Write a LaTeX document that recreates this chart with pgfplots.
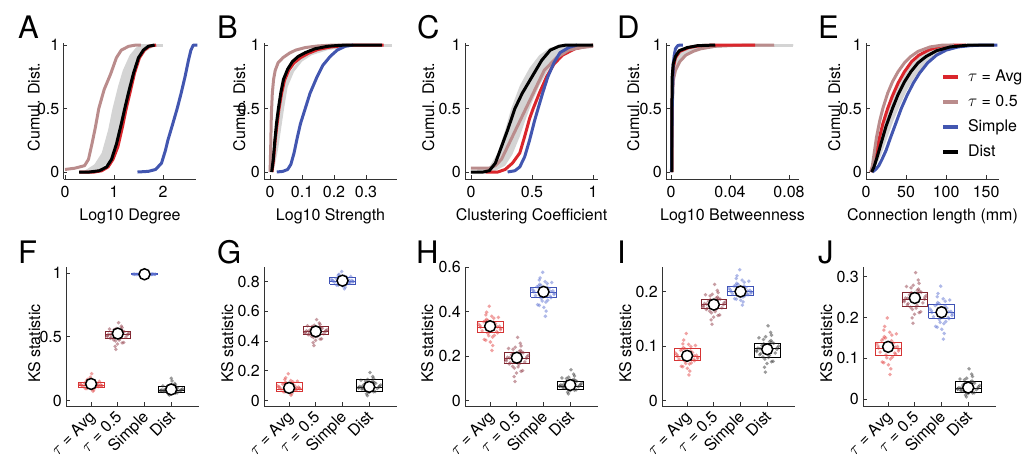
\documentclass[border=0pt]{standalone}
\usepackage{fontspec}
\setmainfont{TeX Gyre Heros}
\usepackage{pgfplots}
\usepackage{pgfplotstable}
\pgfplotsset{compat=1.18}

\definecolor{cRed}{RGB}{218,38,44}
\definecolor{cRosy}{RGB}{186,140,140}
\definecolor{cBlue}{RGB}{66,86,176}
\definecolor{cGray}{RGB}{212,212,212}
\definecolor{dRed}{RGB}{226,70,70}
\definecolor{dMar}{RGB}{145,60,72}
\definecolor{dBlue}{RGB}{95,115,210}
\definecolor{dBlack}{RGB}{55,55,55}
\definecolor{bRed}{RGB}{214,52,52}
\definecolor{bMar}{RGB}{128,38,48}
\definecolor{bBlue}{RGB}{62,82,182}

\newcommand{\fsz}{\fontsize{16bp}{19bp}\selectfont}
\newcommand{\lsz}{\fontsize{31bp}{31bp}\selectfont}

\pgfplotsset{
  panel/.style={scale only axis, width=133bp, anchor=south west,
    axis x line*=bottom, axis y line*=left,
    tick align=inside, major tick length=3.5bp,
    axis line style={line width=0.8bp, black!80},
    tick style={line width=0.8bp, black!80},
    tick label style={font=\fsz, inner sep=0pt},
    /pgf/number format/assume math mode=true,
    /pgf/number format/fixed,
    scaled ticks=false, clip=false,
    yticklabel style={anchor=east, xshift=-4bp}},
  cdf/.style={panel, height=136bp, ymin=-0.055, ymax=1.016, ytick={0,0.5,1},
    xticklabel style={anchor=base, yshift=-19bp},
    every axis x label/.style={at={(axis description cs:0.5,0)}, anchor=base, yshift=-42bp, font=\fsz, inner sep=0pt},
    every axis y label/.style={at={([xshift=-#1]axis description cs:0,0.53)}, rotate=90, anchor=base, font=\fsz, inner sep=0pt},
    ylabel={Cumul. Dist.}},
  ks/.style={panel, height=139bp, xmin=0.06, xmax=5.04, xtick={1,2,3,4},
    xticklabels={{$\tau$ = Avg},{$\tau$ = 0.5},Simple,Dist},
    xticklabel style={xshift=5bp, yshift=-12bp, rotate=45, anchor=base east},
    every axis y label/.style={at={([xshift=-#1]axis description cs:0,0.45)}, rotate=90, anchor=base, font=\fsz, inner sep=0pt},
    ylabel={KS statistic}},
  band/.style={draw=none, fill=cGray, forget plot},
  gline/.style={cGray, line width=3bp, forget plot},
  cur/.style={line width=3bp, line join=round, #1},
  cl/.style={only marks, mark=*, color=#1, mark size=1.9bp, mark options={draw opacity=0, fill=#1, fill opacity=0.5}},
  bx/.style={#1, line width=0.8bp},
  mn/.style={only marks, mark=*, color=black, mark size=5.5bp, mark options={fill=white, draw=black, line width=1.5bp}},
}

\pgfplotstableread{
x1 y1 x2 y2 x3 y3 x4 y4
0.64 0.120 2.36 0.515 2.64 0.990 4.36 0.080
1.13 0.135 1.87 0.538 3.13 0.991 3.87 0.098
0.92 0.108 2.08 0.485 2.92 0.989 4.08 0.070
1.31 0.150 1.69 0.560 3.31 0.992 3.69 0.115
0.78 0.095 2.22 0.455 2.78 0.988 4.22 0.060
1.04 0.126 1.96 0.524 3.04 0.990 3.96 0.087
1.39 0.115 1.61 0.503 3.39 0.990 3.61 0.076
0.87 0.165 2.13 0.583 2.87 0.993 4.13 0.133
1.10 0.083 1.90 0.425 3.10 0.987 3.90 0.050
0.86 0.144 2.14 0.551 2.86 0.992 4.14 0.108
1.09 0.100 1.91 0.467 3.09 0.988 3.91 0.064
0.57 0.129 2.43 0.529 2.57 0.991 4.43 0.091
1.25 0.111 1.75 0.494 3.25 0.989 3.75 0.073
0.97 0.183 2.03 0.610 2.97 0.994 4.03 0.154
1.07 0.073 1.93 0.401 3.07 0.986 3.93 0.042
0.82 0.140 2.18 0.544 2.82 0.991 4.18 0.103
1.16 0.104 1.84 0.476 3.16 0.989 3.84 0.067
0.84 0.158 2.16 0.571 2.84 0.992 4.16 0.124
1.01 0.090 1.99 0.443 3.01 0.988 3.99 0.056
1.27 0.122 1.73 0.517 3.27 0.990 3.73 0.082
1.20 0.131 1.80 0.531 3.20 0.991 3.80 0.092
0.70 0.113 2.30 0.497 2.70 0.989 4.30 0.074
1.35 0.123 1.65 0.520 3.35 0.990 3.65 0.084
0.95 0.103 2.05 0.473 2.95 0.989 4.05 0.066
1.14 0.147 1.86 0.556 3.14 0.992 3.86 0.112
0.76 0.137 2.24 0.540 2.76 0.991 4.24 0.099
1.28 0.109 1.72 0.488 3.28 0.989 3.72 0.071
0.62 0.125 2.38 0.522 2.62 0.990 4.38 0.085
1.06 0.153 1.94 0.565 3.06 0.992 3.94 0.119
0.84 0.094 2.16 0.452 2.84 0.988 4.16 0.059
1.40 0.118 1.60 0.509 3.40 0.990 3.60 0.078
0.91 0.141 2.09 0.547 2.91 0.991 4.09 0.105
}\tabF

\pgfplotstableread{
x1 y1 x2 y2 x3 y3 x4 y4
0.64 0.085 2.36 0.465 2.64 0.805 4.36 0.090
1.13 0.108 1.87 0.484 3.13 0.820 3.87 0.114
0.92 0.072 2.08 0.440 2.92 0.791 4.08 0.075
1.31 0.130 1.69 0.503 3.31 0.835 3.69 0.137
0.78 0.059 2.22 0.415 2.78 0.777 4.22 0.060
1.04 0.094 1.96 0.473 3.04 0.811 3.96 0.099
1.39 0.080 1.61 0.455 3.39 0.799 3.61 0.084
0.87 0.153 2.13 0.522 2.87 0.850 4.13 0.161
1.10 0.046 1.90 0.390 3.10 0.763 3.90 0.045
0.86 0.121 2.14 0.495 2.86 0.829 4.14 0.128
1.09 0.064 1.91 0.425 3.09 0.783 3.91 0.066
0.57 0.099 2.43 0.476 2.57 0.814 4.43 0.104
1.25 0.076 1.75 0.448 3.25 0.795 3.75 0.080
0.97 0.180 2.03 0.545 2.97 0.868 4.03 0.189
1.07 0.036 1.93 0.370 3.07 0.752 3.93 0.033
0.82 0.114 2.18 0.490 2.82 0.825 4.18 0.121
1.16 0.068 1.84 0.433 3.16 0.787 3.84 0.071
0.84 0.141 2.16 0.513 2.84 0.843 4.16 0.149
1.01 0.054 1.99 0.405 3.01 0.771 3.99 0.054
1.27 0.087 1.73 0.467 3.27 0.807 3.73 0.092
1.20 0.101 1.80 0.478 3.20 0.816 3.80 0.106
0.70 0.077 2.30 0.450 2.70 0.797 4.30 0.081
1.35 0.090 1.65 0.469 3.35 0.808 3.65 0.095
0.95 0.067 2.05 0.430 2.95 0.785 4.05 0.069
1.14 0.126 1.86 0.499 3.14 0.832 3.86 0.132
0.76 0.110 2.24 0.486 2.76 0.822 4.24 0.116
1.28 0.073 1.72 0.443 3.28 0.792 3.72 0.077
0.62 0.092 2.38 0.471 2.62 0.810 4.38 0.097
1.06 0.135 1.94 0.507 3.06 0.838 3.94 0.142
0.84 0.058 2.16 0.413 2.84 0.776 4.16 0.059
1.40 0.082 1.60 0.460 3.40 0.802 3.60 0.087
0.91 0.117 2.09 0.492 2.91 0.826 4.09 0.123
}\tabG

\pgfplotstableread{
x1 y1 x2 y2 x3 y3 x4 y4
0.64 0.330 2.36 0.190 2.64 0.490 4.36 0.068
1.13 0.353 1.87 0.213 3.13 0.511 3.87 0.085
0.92 0.303 2.08 0.163 2.92 0.461 4.08 0.058
1.31 0.375 1.69 0.235 3.31 0.532 3.69 0.102
0.78 0.275 2.22 0.135 2.78 0.432 4.22 0.048
1.04 0.339 1.96 0.199 3.04 0.498 3.96 0.075
1.39 0.319 1.61 0.179 3.39 0.478 3.61 0.064
0.87 0.398 2.13 0.258 2.87 0.553 4.13 0.119
1.10 0.248 1.90 0.108 3.10 0.403 3.90 0.038
0.86 0.366 2.14 0.226 2.86 0.524 4.14 0.095
1.09 0.286 1.91 0.146 3.09 0.444 3.91 0.052
0.57 0.344 2.43 0.204 2.57 0.503 4.43 0.078
1.25 0.311 1.75 0.171 3.25 0.470 3.75 0.061
0.97 0.425 2.03 0.285 2.97 0.578 4.03 0.139
1.07 0.226 1.93 0.086 3.07 0.380 3.93 0.030
0.82 0.359 2.18 0.219 2.82 0.517 4.18 0.090
1.16 0.294 1.84 0.154 3.16 0.452 3.84 0.055
0.84 0.386 2.16 0.246 2.84 0.543 4.16 0.111
1.01 0.264 1.99 0.124 3.01 0.420 3.99 0.044
1.27 0.332 1.73 0.192 3.27 0.492 3.73 0.070
1.20 0.346 1.80 0.206 3.20 0.505 3.80 0.080
0.70 0.314 2.30 0.174 2.70 0.473 4.30 0.062
1.35 0.335 1.65 0.195 3.35 0.494 3.65 0.071
0.95 0.292 2.05 0.152 2.95 0.449 4.05 0.054
1.14 0.371 1.86 0.231 3.14 0.528 3.86 0.099
0.76 0.355 2.24 0.215 2.76 0.513 4.24 0.087
1.28 0.305 1.72 0.165 3.28 0.464 3.72 0.059
0.62 0.337 2.38 0.197 2.62 0.496 4.38 0.073
1.06 0.380 1.94 0.240 3.06 0.536 3.94 0.105
0.84 0.272 2.16 0.132 2.84 0.429 4.16 0.047
1.40 0.325 1.60 0.185 3.40 0.484 3.60 0.066
0.91 0.362 2.09 0.222 2.91 0.519 4.09 0.092
}\tabH

\pgfplotstableread{
x1 y1 x2 y2 x3 y3 x4 y4
0.64 0.081 2.36 0.176 2.64 0.200 4.36 0.094
1.13 0.091 1.87 0.185 3.13 0.210 3.87 0.104
0.92 0.072 2.08 0.167 2.92 0.194 4.08 0.083
1.31 0.101 1.69 0.194 3.31 0.219 3.69 0.115
0.78 0.063 2.22 0.157 2.78 0.187 4.22 0.072
1.04 0.085 1.96 0.180 3.04 0.204 3.96 0.098
1.39 0.077 1.61 0.172 3.39 0.197 3.61 0.090
0.87 0.111 2.13 0.202 2.87 0.229 4.13 0.125
1.10 0.054 1.90 0.148 3.10 0.181 3.90 0.061
0.86 0.097 2.14 0.190 2.86 0.215 4.14 0.110
1.09 0.067 1.91 0.161 3.09 0.190 3.91 0.076
0.57 0.087 2.43 0.181 2.57 0.206 4.43 0.100
1.25 0.075 1.75 0.169 3.25 0.195 3.75 0.086
0.97 0.123 2.03 0.213 2.97 0.240 4.03 0.137
1.07 0.047 1.93 0.140 3.07 0.175 3.93 0.052
0.82 0.094 2.18 0.187 2.82 0.212 4.18 0.107
1.16 0.069 1.84 0.164 3.16 0.192 3.84 0.080
0.84 0.104 2.16 0.198 2.84 0.224 4.16 0.120
1.01 0.059 1.99 0.153 3.01 0.184 3.99 0.068
1.27 0.082 1.73 0.177 3.27 0.201 3.73 0.095
1.20 0.088 1.80 0.182 3.20 0.207 3.80 0.101
0.70 0.076 2.30 0.170 2.70 0.196 4.30 0.087
1.35 0.083 1.65 0.178 3.35 0.202 3.65 0.096
0.95 0.068 2.05 0.163 2.95 0.191 4.05 0.079
1.14 0.099 1.86 0.192 3.14 0.217 3.86 0.112
0.76 0.092 2.24 0.186 2.76 0.210 4.24 0.105
1.28 0.073 1.72 0.167 3.28 0.194 3.72 0.084
0.62 0.084 2.38 0.179 2.62 0.203 4.38 0.097
1.06 0.103 1.94 0.195 3.06 0.221 3.94 0.117
0.84 0.062 2.16 0.156 2.84 0.186 4.16 0.071
1.40 0.079 1.60 0.174 3.40 0.199 3.60 0.092
0.91 0.095 2.09 0.188 2.91 0.213 4.09 0.108
}\tabI

\pgfplotstableread{
x1 y1 x2 y2 x3 y3 x4 y4
0.64 0.125 2.36 0.245 2.64 0.212 4.36 0.026
1.13 0.143 1.87 0.261 3.13 0.228 3.87 0.038
0.92 0.108 2.08 0.230 2.92 0.195 4.08 0.021
1.31 0.160 1.69 0.276 3.31 0.243 3.69 0.049
0.78 0.091 2.22 0.214 2.78 0.178 4.22 0.015
1.04 0.132 1.96 0.251 3.04 0.218 3.96 0.031
1.39 0.118 1.61 0.239 3.39 0.205 3.61 0.024
0.87 0.178 2.13 0.292 2.87 0.259 4.13 0.061
1.10 0.074 1.90 0.199 3.10 0.161 3.90 0.010
0.86 0.153 2.14 0.270 2.86 0.237 4.14 0.044
1.09 0.098 1.91 0.220 3.09 0.185 3.91 0.017
0.57 0.136 2.43 0.254 2.57 0.221 4.43 0.033
1.25 0.113 1.75 0.234 3.25 0.200 3.75 0.022
0.97 0.199 2.03 0.310 2.97 0.277 4.03 0.074
1.07 0.060 1.93 0.186 3.07 0.147 3.93 0.005
0.82 0.148 2.18 0.265 2.82 0.232 4.18 0.041
1.16 0.103 1.84 0.225 3.16 0.190 3.84 0.019
0.84 0.169 2.16 0.284 2.84 0.251 4.16 0.055
1.01 0.084 1.99 0.208 3.01 0.171 3.99 0.013
1.27 0.127 1.73 0.247 3.27 0.214 3.73 0.027
1.20 0.137 1.80 0.256 3.20 0.223 3.80 0.034
0.70 0.115 2.30 0.236 2.70 0.202 4.30 0.023
1.35 0.129 1.65 0.248 3.35 0.215 3.65 0.028
0.95 0.101 2.05 0.223 2.95 0.188 4.05 0.018
1.14 0.157 1.86 0.273 3.14 0.240 3.86 0.047
0.76 0.144 2.24 0.262 2.76 0.229 4.24 0.039
1.28 0.110 1.72 0.231 3.28 0.197 3.72 0.021
0.62 0.130 2.38 0.250 2.62 0.217 4.38 0.030
1.06 0.164 1.94 0.279 3.06 0.246 3.94 0.051
0.84 0.089 2.16 0.212 2.84 0.176 4.16 0.015
1.40 0.122 1.60 0.242 3.40 0.209 3.60 0.025
0.91 0.150 2.09 0.267 2.91 0.234 4.09 0.042
}\tabJ

\begin{document}
\begin{tikzpicture}
\path[use as bounding box] (0,0) rectangle (1036bp,457bp);

% ---------- top row: cumulative distributions ----------
% A
\begin{axis}[cdf=24bp, at={(63.5bp,278bp)}, xmin=-0.03, xmax=2.684, xtick={0,1,2}, xlabel={Log10 Degree}]
\addplot[band] coordinates {(0.4,0.01)(0.6,0.06)(0.75,0.15)(0.88,0.33)(0.97,0.5)(1.08,0.67)(1.18,0.8)(1.32,0.92)(1.45,0.98)(1.6,1.0)(2.0,1.0)(2.0,0.99)(1.8,0.985)(1.65,0.95)(1.5,0.87)(1.4,0.75)(1.3,0.6)(1.2,0.45)(1.1,0.3)(1.0,0.17)(0.9,0.08)(0.7,0.02)(0.4,0.0)};
\addplot[gline] coordinates {(1.5,1)(2.0,1)};
\addplot[cur=cRed] coordinates {(0.3,0)(0.6,0)(0.75,0.01)(0.88,0.04)(0.98,0.1)(1.08,0.2)(1.17,0.35)(1.25,0.5)(1.33,0.63)(1.42,0.78)(1.52,0.9)(1.62,0.96)(1.72,0.99)(1.86,1.0)};
\addplot[cur=cRosy] coordinates {(0,0.02)(0.2,0.03)(0.4,0.05)(0.48,0.1)(0.55,0.22)(0.62,0.35)(0.69,0.5)(0.8,0.65)(0.93,0.77)(1.05,0.9)(1.15,0.96)(1.3,0.99)(1.45,1.0)(1.55,1.0)};
\addplot[cur=cBlue] coordinates {(1.48,0)(1.7,0.005)(1.85,0.02)(1.97,0.07)(2.05,0.17)(2.1,0.25)(2.2,0.38)(2.29,0.5)(2.37,0.62)(2.45,0.75)(2.52,0.88)(2.57,0.96)(2.62,1.0)(2.7,1.0)};
\addplot[cur=black] coordinates {(0.29,0)(0.5,0)(0.7,0.01)(0.85,0.04)(0.95,0.1)(1.05,0.22)(1.15,0.38)(1.22,0.5)(1.3,0.63)(1.4,0.78)(1.5,0.9)(1.6,0.96)(1.7,0.99)(1.83,1.0)};
\end{axis}

% B
\begin{axis}[cdf=19bp, at={(264bp,278bp)}, xmin=-0.019, xmax=0.397, xtick={0,0.1,0.2,0.3}, xlabel={Log10 Strength}]
\addplot[band] coordinates {(0.005,0)(0.012,0.15)(0.02,0.35)(0.028,0.5)(0.04,0.65)(0.06,0.78)(0.09,0.88)(0.13,0.95)(0.18,0.985)(0.25,1.0)(0.38,1.0)(0.38,0.99)(0.25,0.985)(0.18,0.96)(0.13,0.92)(0.1,0.87)(0.075,0.79)(0.055,0.67)(0.045,0.52)(0.035,0.35)(0.025,0.18)(0.015,0.05)(0.008,0)};
\addplot[gline] coordinates {(0.2,1)(0.38,1)};
\addplot[cur=cRed] coordinates {(0.006,0)(0.011,0.1)(0.016,0.25)(0.022,0.38)(0.028,0.5)(0.036,0.62)(0.045,0.72)(0.058,0.8)(0.075,0.86)(0.095,0.9)(0.12,0.935)(0.15,0.965)(0.19,0.985)(0.24,0.997)(0.28,1.0)(0.355,1.0)};
\addplot[cur=cRosy] coordinates {(0,0)(0.002,0.2)(0.004,0.45)(0.007,0.62)(0.011,0.73)(0.016,0.8)(0.025,0.86)(0.04,0.9)(0.06,0.935)(0.08,0.96)(0.11,0.98)(0.15,0.993)(0.2,1.0)(0.25,1.0)};
\addplot[cur=cBlue] coordinates {(0.021,0)(0.04,0.005)(0.055,0.02)(0.065,0.06)(0.075,0.15)(0.085,0.27)(0.095,0.38)(0.11,0.5)(0.125,0.62)(0.147,0.75)(0.165,0.84)(0.188,0.91)(0.21,0.96)(0.235,0.99)(0.26,1.0)};
\addplot[cur=black] coordinates {(0.005,0)(0.01,0.1)(0.015,0.25)(0.02,0.38)(0.026,0.5)(0.034,0.63)(0.042,0.73)(0.055,0.81)(0.07,0.87)(0.088,0.91)(0.11,0.94)(0.14,0.97)(0.18,0.99)(0.22,0.998)(0.26,1.0)(0.35,1.0)};
\end{axis}

% C
\begin{axis}[cdf=31bp, at={(465bp,278bp)}, xmin=-0.049, xmax=1.041, xtick={0,0.5,1}, xlabel={Clustering Coefficient}]
\addplot[band] coordinates {(0.05,0.02)(0.15,0.04)(0.22,0.15)(0.28,0.33)(0.33,0.5)(0.4,0.68)(0.48,0.82)(0.56,0.92)(0.65,0.98)(0.8,1.0)(1.0,1.0)(0.85,0.97)(0.72,0.9)(0.63,0.8)(0.56,0.68)(0.5,0.55)(0.45,0.42)(0.4,0.28)(0.34,0.14)(0.28,0.05)(0.2,0.01)(0.05,0.0)};
\addplot[cur=cRed] coordinates {(0.12,0)(0.22,0.0)(0.28,0.02)(0.34,0.07)(0.4,0.15)(0.44,0.28)(0.48,0.42)(0.51,0.5)(0.56,0.62)(0.62,0.75)(0.68,0.85)(0.75,0.92)(0.85,0.97)(1.0,1.0)};
\addplot[cur=cRosy] coordinates {(0,0.03)(0.15,0.03)(0.2,0.05)(0.25,0.1)(0.3,0.2)(0.35,0.3)(0.4,0.4)(0.45,0.5)(0.5,0.6)(0.55,0.7)(0.6,0.8)(0.7,0.9)(0.8,0.96)(0.9,0.98)(1.0,0.99)};
\addplot[cur=cBlue] coordinates {(0.3,0)(0.36,0.01)(0.4,0.04)(0.44,0.12)(0.48,0.25)(0.52,0.4)(0.55,0.5)(0.59,0.63)(0.63,0.75)(0.68,0.86)(0.73,0.94)(0.8,0.98)(0.87,1.0)};
\addplot[cur=black] coordinates {(0,0)(0.1,0)(0.15,0.01)(0.2,0.07)(0.25,0.2)(0.3,0.33)(0.36,0.5)(0.42,0.62)(0.5,0.75)(0.58,0.88)(0.65,0.96)(0.72,0.99)(0.78,1.0)(1.0,1.0)};
\end{axis}

% D
\begin{axis}[cdf=27bp, at={(666bp,278bp)}, xmin=-0.0034, xmax=0.0868, xtick={0,0.04,0.08}, xlabel={Log10 Betweenness}]
\addplot[band] coordinates {(0.0005,0.3)(0.0007,0.7)(0.0015,0.85)(0.004,0.93)(0.008,0.97)(0.015,0.99)(0.025,1.005)(0.083,1.005)(0.083,0.995)(0.04,0.99)(0.025,0.975)(0.015,0.95)(0.008,0.9)(0.004,0.84)(0.0015,0.74)(0.0008,0.5)(0.0006,0.3)};
\addplot[gline] coordinates {(0.02,1)(0.083,1)};
\addplot[cur=cRosy] coordinates {(0.0005,0)(0.0008,0.5)(0.0015,0.72)(0.003,0.8)(0.006,0.87)(0.01,0.92)(0.015,0.95)(0.02,0.97)(0.03,0.99)(0.045,0.998)(0.07,1.0)};
\addplot[cur=cRed] coordinates {(0.0005,0)(0.0007,0.5)(0.0012,0.8)(0.003,0.9)(0.006,0.95)(0.012,0.98)(0.02,0.995)(0.03,1.0)(0.057,1.0)};
\addplot[cur=cBlue] coordinates {(0.0003,0)(0.0008,0.5)(0.0015,0.85)(0.0022,0.92)(0.003,0.97)(0.0045,0.995)(0.006,1.0)(0.008,1.0)};
\addplot[cur=black] coordinates {(0.0005,0)(0.0006,0.5)(0.0008,0.75)(0.0015,0.85)(0.003,0.91)(0.0055,0.955)(0.011,0.98)(0.018,0.995)(0.03,1.0)};
\end{axis}

% E
\begin{axis}[cdf=26bp, at={(866bp,278bp)}, xmin=0, xmax=166, xtick={0,50,100,150}, xlabel={Connection length (mm)},
  legend style={at={(axis description cs:0.54,0.816)}, anchor=north west, draw=none, fill=none, font=\fsz,
    row sep=11bp, column sep=8bp, nodes={inner sep=0pt, text height=11bp, text depth=3bp}},
  legend cell align=left,
  legend image code/.code={\draw[#1, line width=4bp] (0bp,0bp) -- (15bp,0bp);}]
\addplot[band] coordinates {(6,0)(12,0.15)(18,0.32)(24,0.45)(30,0.55)(40,0.69)(50,0.8)(62,0.89)(80,0.96)(105,0.995)(125,1.0)(165,1.0)(130,0.99)(110,0.97)(95,0.94)(82,0.89)(70,0.82)(60,0.74)(50,0.63)(42,0.52)(34,0.4)(26,0.26)(18,0.12)(10,0.02)(7,0)};
\addplot[cur=cRed] coordinates {(6,0)(9,0.05)(12,0.13)(16,0.25)(21,0.38)(27,0.5)(33,0.6)(40,0.7)(48,0.79)(57,0.87)(66,0.92)(78,0.96)(92,0.99)(112,1.0)(125,1.0)};
\addlegendentry{$\tau$ = Avg}
\addplot[cur=cRosy] coordinates {(6,0)(8,0.05)(10,0.14)(13,0.27)(17,0.4)(21,0.5)(27,0.62)(33,0.71)(40,0.79)(48,0.86)(56,0.91)(65,0.95)(80,0.985)(96,1.0)(110,1.0)};
\addlegendentry{$\tau$ = 0.5}
\addplot[cur=cBlue] coordinates {(8,0)(12,0.02)(16,0.05)(20,0.1)(25,0.17)(30,0.26)(37,0.38)(44,0.5)(51,0.6)(59,0.7)(67,0.78)(77,0.86)(88,0.92)(100,0.96)(115,0.985)(130,0.995)(146,1.0)(164,1.0)};
\addlegendentry{Simple}
\addplot[cur=black] coordinates {(7,0)(10,0.04)(14,0.12)(19,0.23)(25,0.36)(33,0.5)(40,0.61)(48,0.71)(56,0.79)(65,0.86)(75,0.91)(88,0.955)(105,0.985)(129,1.0)(160,1.0)};
\addlegendentry{Dist}
\end{axis}

% ---------- bottom row: KS statistics ----------
% F
\begin{axis}[ks=26bp, at={(66bp,51bp)}, ymin=-0.043, ymax=1.047, ytick={0,0.5,1}]
\addplot[cl=dRed] table[x=x1,y=y1]{\tabF};
\addplot[cl=dRed] coordinates {(1.02,0.21)};
\addplot[cl=dMar] table[x=x2,y=y2]{\tabF};
\addplot[cl=dBlue] table[x=x3,y=y3]{\tabF};
\addplot[cl=dBlack] table[x=x4,y=y4]{\tabF};
\addplot[cl=dBlack] coordinates {(4.0,0.175)};
\addplot[bx=bRed] coordinates {(0.52,0.100)(1.48,0.100)(1.48,0.145)(0.52,0.145)(0.52,0.100)(0.52,0.120)(1.48,0.120)};
\addplot[bx=bMar] coordinates {(1.52,0.485)(2.48,0.485)(2.48,0.545)(1.52,0.545)(1.52,0.485)(1.52,0.515)(2.48,0.515)};
\addplot[bx=bBlue] coordinates {(2.52,0.987)(3.48,0.987)(3.48,0.993)(2.52,0.993)(2.52,0.987)(2.52,0.990)(3.48,0.990)};
\addplot[bx=black] coordinates {(3.52,0.062)(4.48,0.062)(4.48,0.110)(3.52,0.110)(3.52,0.062)(3.52,0.080)(4.48,0.080)};
\addplot[mn] coordinates {(1,0.13)(2,0.525)(3,0.99)(4,0.087)};
\end{axis}

% G
\begin{axis}[ks=31bp, at={(264bp,51bp)}, ymin=-0.037, ymax=0.899, ytick={0,0.2,0.4,0.6,0.8}]
\addplot[cl=dRed] table[x=x1,y=y1]{\tabG};
\addplot[cl=dMar] table[x=x2,y=y2]{\tabG};
\addplot[cl=dBlue] table[x=x3,y=y3]{\tabG};
\addplot[cl=dBlack] table[x=x4,y=y4]{\tabG};
\addplot[bx=bRed] coordinates {(0.52,0.063)(1.48,0.063)(1.48,0.125)(0.52,0.125)(0.52,0.063)(0.52,0.075)(1.48,0.075)};
\addplot[bx=bMar] coordinates {(1.52,0.445)(2.48,0.445)(2.48,0.500)(1.52,0.500)(1.52,0.445)(1.52,0.465)(2.48,0.465)};
\addplot[bx=bBlue] coordinates {(2.52,0.785)(3.48,0.785)(3.48,0.830)(2.52,0.830)(2.52,0.785)(2.52,0.800)(3.48,0.800)};
\addplot[bx=black] coordinates {(3.52,0.063)(4.48,0.063)(4.48,0.140)(3.52,0.140)(3.52,0.063)(3.52,0.090)(4.48,0.090)};
\addplot[mn] coordinates {(1,0.085)(2,0.465)(3,0.807)(4,0.092)};
\end{axis}

% H
\begin{axis}[ks=32bp, at={(465bp,51bp)}, ymin=-0.0246, ymax=0.602, ytick={0,0.2,0.4,0.6}]
\addplot[cl=dRed] table[x=x1,y=y1]{\tabH};
\addplot[cl=dMar] table[x=x2,y=y2]{\tabH};
\addplot[cl=dBlue] table[x=x3,y=y3]{\tabH};
\addplot[cl=dBlack] table[x=x4,y=y4]{\tabH};
\addplot[bx=bRed] coordinates {(0.52,0.306)(1.48,0.306)(1.48,0.358)(0.52,0.358)(0.52,0.306)(0.52,0.330)(1.48,0.330)};
\addplot[bx=bMar] coordinates {(1.52,0.168)(2.48,0.168)(2.48,0.218)(1.52,0.218)(1.52,0.168)(1.52,0.190)(2.48,0.190)};
\addplot[bx=bBlue] coordinates {(2.52,0.467)(3.48,0.467)(3.48,0.512)(2.52,0.512)(2.52,0.467)(2.52,0.487)(3.48,0.487)};
\addplot[bx=black] coordinates {(3.52,0.052)(4.48,0.052)(4.48,0.085)(3.52,0.085)(3.52,0.052)(3.52,0.066)(4.48,0.066)};
\addplot[mn] coordinates {(1,0.335)(2,0.193)(3,0.49)(4,0.07)};
\end{axis}

% I
\begin{axis}[ks=31bp, at={(662bp,51bp)}, ymin=-0.0101, ymax=0.245, ytick={0,0.1,0.2}]
\addplot[cl=dRed] table[x=x1,y=y1]{\tabI};
\addplot[cl=dMar] table[x=x2,y=y2]{\tabI};
\addplot[cl=dBlue] table[x=x3,y=y3]{\tabI};
\addplot[cl=dBlack] table[x=x4,y=y4]{\tabI};
\addplot[bx=bRed] coordinates {(0.52,0.074)(1.48,0.074)(1.48,0.095)(0.52,0.095)(0.52,0.074)(0.52,0.081)(1.48,0.081)};
\addplot[bx=bMar] coordinates {(1.52,0.169)(2.48,0.169)(2.48,0.185)(1.52,0.185)(1.52,0.169)(1.52,0.176)(2.48,0.176)};
\addplot[bx=bBlue] coordinates {(2.52,0.192)(3.48,0.192)(3.48,0.209)(2.52,0.209)(2.52,0.192)(2.52,0.200)(3.48,0.200)};
\addplot[bx=black] coordinates {(3.52,0.080)(4.48,0.080)(4.48,0.105)(3.52,0.105)(3.52,0.080)(3.52,0.095)(4.48,0.095)};
\addplot[mn] coordinates {(1,0.082)(2,0.176)(3,0.20)(4,0.094)};
\end{axis}

% J
\begin{axis}[ks=31bp, at={(863bp,51bp)}, ymin=-0.0172, ymax=0.324, ytick={0,0.1,0.2,0.3}]
\addplot[cl=dRed] table[x=x1,y=y1]{\tabJ};
\addplot[cl=dMar] table[x=x2,y=y2]{\tabJ};
\addplot[cl=dBlue] table[x=x3,y=y3]{\tabJ};
\addplot[cl=dBlack] table[x=x4,y=y4]{\tabJ};
\addplot[bx=bRed] coordinates {(0.52,0.108)(1.48,0.108)(1.48,0.140)(0.52,0.140)(0.52,0.108)(0.52,0.125)(1.48,0.125)};
\addplot[bx=bMar] coordinates {(1.52,0.228)(2.48,0.228)(2.48,0.262)(1.52,0.262)(1.52,0.228)(1.52,0.245)(2.48,0.245)};
\addplot[bx=bBlue] coordinates {(2.52,0.198)(3.48,0.198)(3.48,0.232)(2.52,0.232)(2.52,0.198)(2.52,0.212)(3.48,0.212)};
\addplot[bx=black] coordinates {(3.52,0.017)(4.48,0.017)(4.48,0.042)(3.52,0.042)(3.52,0.017)(3.52,0.025)(4.48,0.025)};
\addplot[mn] coordinates {(1,0.128)(2,0.248)(3,0.213)(4,0.028)};
\end{axis}

% panel letters
\node[font=\lsz, anchor=base west, inner sep=0pt] at (18bp,418bp) {A};
\node[font=\lsz, anchor=base west, inner sep=0pt] at (217bp,418bp) {B};
\node[font=\lsz, anchor=base west, inner sep=0pt] at (417bp,418bp) {C};
\node[font=\lsz, anchor=base west, inner sep=0pt] at (617bp,418bp) {D};
\node[font=\lsz, anchor=base west, inner sep=0pt] at (818bp,418bp) {E};
\node[font=\lsz, anchor=base west, inner sep=0pt] at (18bp,193bp) {F};
\node[font=\lsz, anchor=base west, inner sep=0pt] at (217bp,193bp) {G};
\node[font=\lsz, anchor=base west, inner sep=0pt] at (416bp,193bp) {H};
\node[font=\lsz, anchor=base west, inner sep=0pt] at (617bp,193bp) {I};
\node[font=\lsz, anchor=base west, inner sep=0pt] at (818bp,193bp) {J};
\end{tikzpicture}
\end{document}
